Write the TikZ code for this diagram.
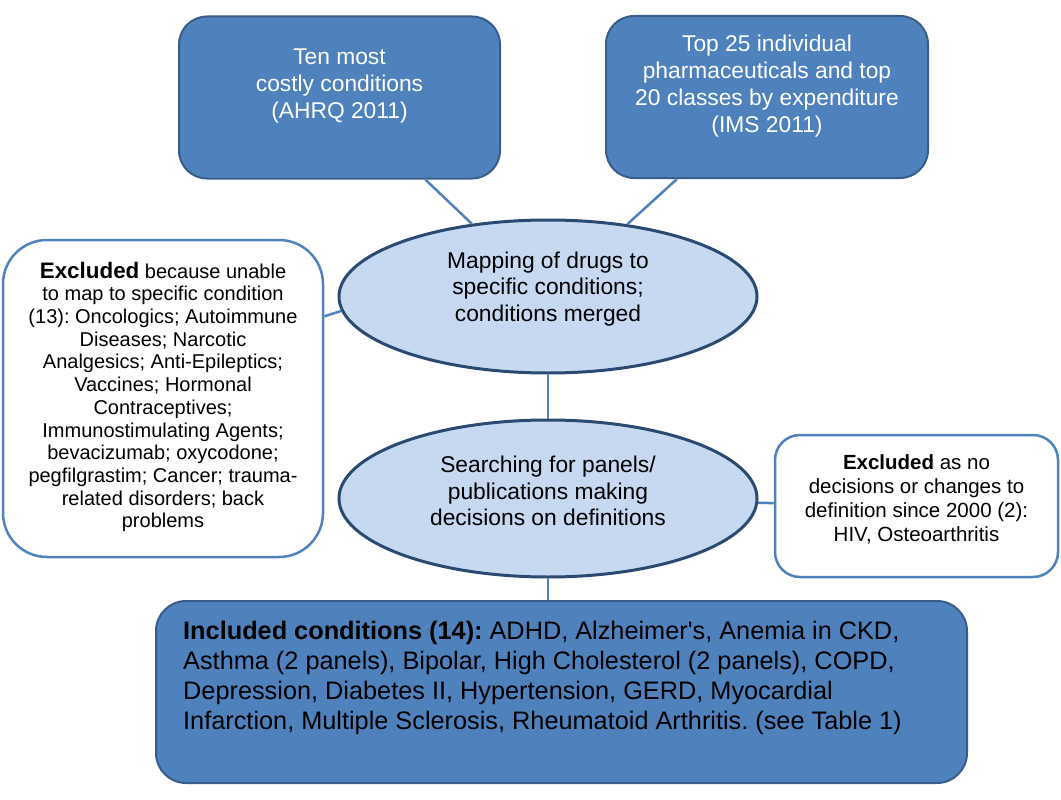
\documentclass[tikz,border=0pt]{standalone}
\usepackage{fontspec}
\setmainfont{Liberation Sans}
\usetikzlibrary{shapes.geometric}
\frenchspacing

\definecolor{boxblue}{HTML}{4F81BD}
\definecolor{boxedge}{HTML}{385D8A}
\definecolor{ovalfill}{HTML}{C6D9F1}
\definecolor{ovaledge}{HTML}{2B4A72}

\begin{document}
\begin{tikzpicture}[x=1pt, y=-1pt,
                sourcebox/.style={draw=boxedge, line width=2pt, fill=boxblue, rounded corners=28pt, inner sep=0},
                stepoval/.style={ellipse, draw=ovaledge, line width=3pt, fill=ovalfill, inner sep=0},
                exclbox/.style={draw=boxblue, line width=2.5pt, fill=white, inner sep=0},
                boxtext/.style={align=center, inner sep=0}]
        \useasboundingbox (0,0) rectangle (1061,800);
                \begin{scope}
                        \node[sourcebox, minimum width=321pt, minimum height=162pt] (ten) at (339.5,97.5) {};
                        \node[sourcebox, minimum width=322pt, minimum height=162pt] (top) at (767,97) {};
                        \node[stepoval, minimum width=418pt, minimum height=153pt] (map) at (548,296.5) {};
                        \node[stepoval, minimum width=418pt, minimum height=157pt] (search) at (548,498.5) {};
                        \node[exclbox, rounded corners=44pt, minimum width=320pt, minimum height=317pt] (exclA) at (163,398.5) {};
                        \node[exclbox, rounded corners=25pt, minimum width=283pt, minimum height=142pt] (exclB) at (916.5,506) {};
                        \node[sourcebox, draw=boxedge, rounded corners=30pt, minimum width=811pt, minimum height=182pt] (incl) at (561.5,692) {};

                        \node[boxtext, white, font=\fontsize{22.8}{27}\selectfont] (tentext) at (339.5,86) {Ten most\\costly conditions\\(AHRQ 2011)};
                        \node[boxtext, white, font=\fontsize{22.8}{27}\selectfont] (toptext) at (767,86.5) {Top 25 individual\\pharmaceuticals and top\\20 classes by expenditure\\(IMS 2011)};
                        \node[boxtext, font=\fontsize{22.8}{26.5}\selectfont] (maptext) at (548,289) {Mapping of drugs to\\specific conditions;\\conditions merged};
                        \node[boxtext, font=\fontsize{22.8}{26.5}\selectfont] (searchtext) at (548,491) {Searching for panels/\\publications making\\decisions on definitions};
                        \node[boxtext, font=\fontsize{20}{22.7}\selectfont] (exclAtext) at (163,397) {{\fontsize{22.4}{22.7}\selectfont\textbf{Excluded}} because unable\\to map to specific condition\\(13): Oncologics; Autoimmune\\Diseases; Narcotic\\Analgesics; Anti-Epileptics;\\Vaccines; Hormonal\\Contraceptives;\\Immunostimulating Agents;\\bevacizumab; oxycodone;\\pegfilgrastim; Cancer; trauma-\\related disorders; back\\problems};
                        \node[boxtext, font=\fontsize{20.5}{24}\selectfont] (exclBtext) at (916.5,499) {\textbf{Excluded} as no\\decisions or changes to\\definition since 2000 (2):\\HIV, Osteoarthritis};
                        \node[boxtext, align=left, anchor=west, font=\fontsize{25.3}{30}\selectfont] (incltext) at (183,677.5) {\textbf{Included conditions (14):} ADHD, Alzheimer\textquotesingle s, Anemia in CKD,\\Asthma (2 panels), Bipolar, High Cholesterol (2 panels), COPD,\\Depression, Diabetes II, Hypertension, GERD, Myocardial\\Infarction, Multiple Sclerosis, Rheumatoid Arthritis. (see Table 1)};
                \end{scope}
                \begin{scope}[every path/.style={draw=boxblue, line width=2.5pt}]
                        \path (ten) edge (map);
                        \path (top) edge (map);
                        \path (exclA.27) edge (map.184);
                        \path (map) edge (search);
                        \path (search) edge (exclB);
                        \path (search.south) edge (search.south |- incl.north);
                \end{scope}
        \end{tikzpicture}
\end{document}
